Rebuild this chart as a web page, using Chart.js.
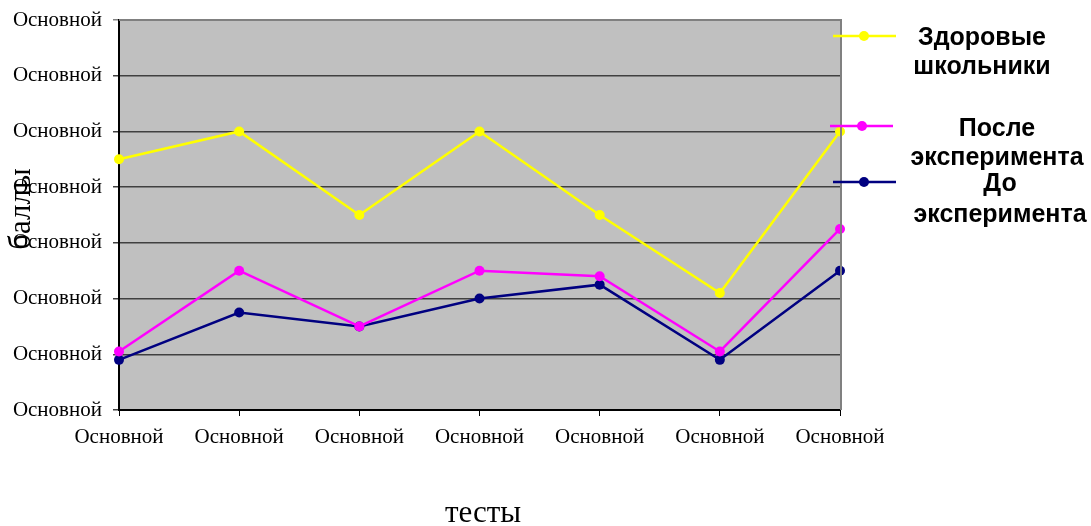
<!DOCTYPE html>
<html>
<head>
<meta charset="utf-8">
<script src="https://cdn.jsdelivr.net/npm/chart.js@4/dist/chart.umd.min.js"></script>
<style>
  html, body { margin: 0; padding: 0; background: #fff; }
  #wrap { width: 1091px; height: 526px; position: relative; }
</style>
</head>
<body>
<div id="wrap"><canvas id="c" width="1091" height="526"></canvas></div>
<script>
const categories = ['Основной','Основной','Основной','Основной','Основной','Основной','Основной'];
const yTickLabels = ['Основной','Основной','Основной','Основной','Основной','Основной','Основной','Основной'];
const seriesNames = ['Здоровые школьники','После эксперимента','До эксперимента'];
const healthy = [4.5, 5.0, 3.5, 5.0, 3.5, 2.1, 5.0];
const after = [1.05, 2.5, 1.5, 2.5, 2.4, 1.05, 3.25];
const before = [0.9, 1.75, 1.5, 2.0, 2.25, 0.9, 2.5];
const xTitle = 'тесты';
const yTitle = 'баллы';

const colors = ['#FFFF00', '#FF00FF', '#000080'];

const decor = {
  id: 'decor',
  beforeDraw(chart) {
    const {ctx, chartArea: a} = chart;
    ctx.save();
    ctx.fillStyle = '#C0C0C0';
    ctx.fillRect(a.left, a.top, a.right - a.left, a.bottom - a.top);
    ctx.restore();
  },
  afterDatasetsDraw(chart) {
    const {ctx, chartArea: a} = chart;
    ctx.save();
    ctx.strokeStyle = '#808080';
    ctx.lineWidth = 2;
    ctx.beginPath();
    ctx.moveTo(a.left, a.top);
    ctx.lineTo(a.right + 1, a.top);
    ctx.lineTo(a.right + 1, a.bottom);
    ctx.stroke();
    ctx.fillStyle = '#000';
    ctx.font = '31px "Liberation Serif", "Times New Roman", serif';
    ctx.textAlign = 'center';
    ctx.textBaseline = 'middle';
    ctx.fillText(xTitle, 483, 514);
    ctx.translate(22, 209);
    ctx.rotate(-Math.PI / 2);
    ctx.fillText(yTitle, 0, 0);
    ctx.restore();

    const items = [
      {lx1: 833, lx2: 896, ly: 36, mx: 864, tx: 982, ty: [38, 67]},
      {lx1: 830, lx2: 893, ly: 126, mx: 862, tx: 997, ty: [129, 158]},
      {lx1: 833, lx2: 896, ly: 182, mx: 864, tx: 1000, ty: [184, 215]}
    ];
    ctx.save();
    chart.data.datasets.forEach((ds, i) => {
      const it = items[i];
      ctx.strokeStyle = ds.borderColor;
      ctx.lineWidth = 2.5;
      ctx.beginPath();
      ctx.moveTo(it.lx1, it.ly);
      ctx.lineTo(it.lx2, it.ly);
      ctx.stroke();
      ctx.fillStyle = ds.borderColor;
      ctx.beginPath();
      ctx.arc(it.mx, it.ly, 5, 0, Math.PI * 2);
      ctx.fill();
      ctx.fillStyle = '#000';
      ctx.font = 'bold 25px "Liberation Sans", Arial, sans-serif';
      ctx.textAlign = 'center';
      ctx.textBaseline = 'middle';
      const words = ds.label.split(' ');
      words.forEach((w, k) => ctx.fillText(w, it.tx, it.ty[k]));
    });
    ctx.restore();
  }
};

new Chart(document.getElementById('c'), {
  type: 'line',
  data: {
    labels: categories,
    datasets: [healthy, after, before].map((d, i) => ({
      label: seriesNames[i],
      data: d,
      borderColor: colors[i],
      backgroundColor: colors[i],
      pointBackgroundColor: colors[i],
      pointBorderColor: colors[i],
      borderWidth: 2.5,
      pointRadius: 5,
      pointBorderWidth: 0,
      tension: 0,
      fill: false
    }))
  },
  options: {
    responsive: false,
    animation: false,
    layout: { padding: { left: 0, top: 20, right: 251, bottom: 0 } },
    plugins: { legend: { display: false }, tooltip: { enabled: false } },
    scales: {
      x: {
        offset: false,
        grid: { display: true, drawOnChartArea: false, drawTicks: true, tickLength: 6, color: '#000', lineWidth: 1 },
        border: { display: true, color: '#000', width: 2 },
        ticks: {
          color: '#000',
          font: { family: '"Liberation Serif", "Times New Roman", serif', size: 21 },
          padding: 9,
          maxRotation: 0,
          autoSkip: false
        },
        afterFit(scale) { scale.height = 116; scale.paddingLeft = 0; scale.paddingRight = 0; }
      },
      y: {
        min: 0, max: 7,
        grid: {
          color: (c) => (c.tick && c.tick.value === 7) ? '#808080' : '#404040',
          lineWidth: 1.5,
          tickLength: 6,
          drawTicks: true
        },
        border: { display: true, color: '#000', width: 2 },
        ticks: {
          stepSize: 1,
          color: '#000',
          font: { family: '"Liberation Serif", "Times New Roman", serif', size: 21 },
          padding: 11,
          callback: (v) => yTickLabels[v]
        },
        afterFit(scale) { scale.width = 119; scale.paddingTop = 0; scale.paddingBottom = 0; }
      }
    }
  },
  plugins: [decor]
});
</script>
</body>
</html>
